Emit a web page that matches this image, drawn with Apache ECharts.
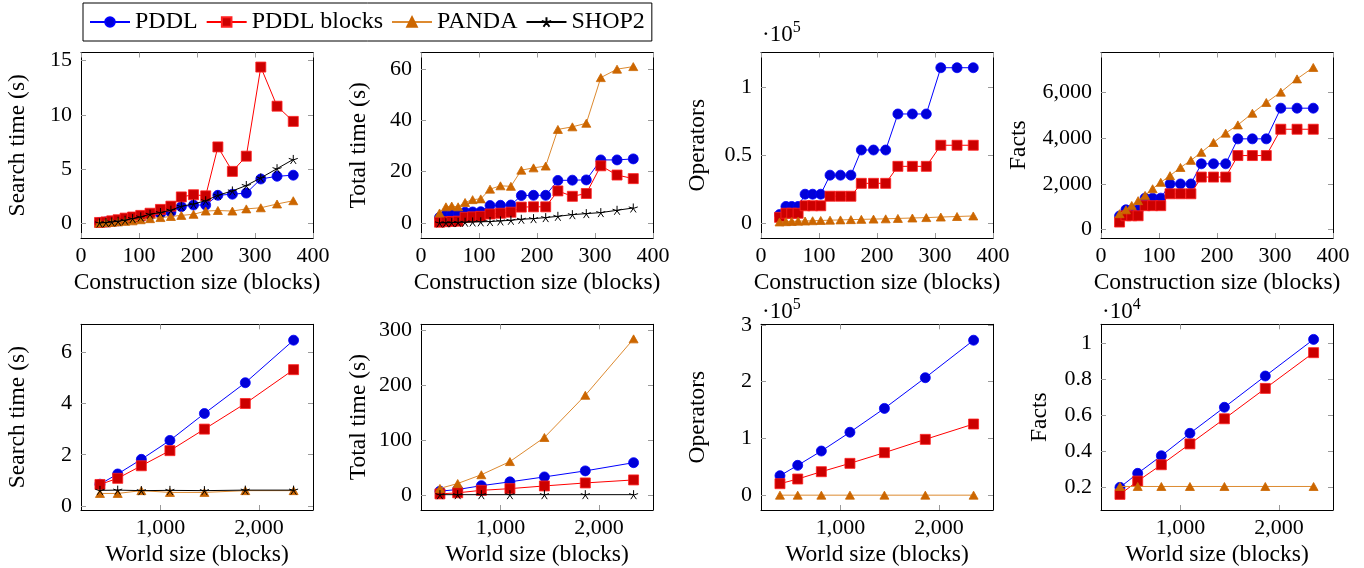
<!DOCTYPE html>
<html><head><meta charset="utf-8">
<script src="https://cdn.jsdelivr.net/npm/echarts@6/dist/echarts.min.js"></script>
<style>html,body{margin:0;padding:0;background:#fff}#c{width:1364px;height:568px}</style>
</head><body><div id="c"></div>
<script>
// ---------- data ----------
const seriesNames = ['PDDL', 'PDDL blocks', 'PANDA', 'SHOP2'];
const constructionSize = [32, 43, 53, 64, 76, 89, 103, 119, 137, 155, 173, 194, 215, 236, 261, 285, 310, 338, 366];
const worldSize = [385, 565, 805, 1095, 1445, 1860, 2350];

const constXTicks = [0, 100, 200, 300, 400];
const worldXTicks = [1000, 2000];

// construction size panels
const pddlSearchC = [0.1, 0.15, 0.2, 0.25, 0.35, 0.45, 0.55, 0.75, 0.9, 1.05, 1.55, 1.7, 1.7, 2.6, 2.7, 2.8, 4.1, 4.35, 4.45];
const blocksSearchC = [0.1, 0.15, 0.25, 0.35, 0.5, 0.6, 0.75, 0.95, 1.3, 1.6, 2.45, 2.65, 2.55, 7.05, 4.8, 6.2, 14.4, 10.8, 9.4];
const pandaSearchC = [0.05, 0.08, 0.1, 0.15, 0.2, 0.25, 0.35, 0.45, 0.55, 0.65, 0.75, 0.85, 1.15, 1.2, 1.15, 1.35, 1.45, 1.8, 2.1];
const shopSearchC = [0.06, 0.09, 0.15, 0.21, 0.31, 0.46, 0.61, 0.86, 1.01, 1.23, 1.59, 1.8, 2.1, 2.6, 3.0, 3.5, 4.2, 5.05, 5.9];

const pddlTotalC = [2.2, 3.3, 3.4, 3.5, 4.2, 4.3, 4.4, 6.8, 6.9, 7.0, 10.7, 10.8, 10.8, 16.6, 16.7, 16.8, 24.6, 24.6, 25.0];
const blocksTotalC = [0.3, 0.5, 0.6, 0.7, 2.2, 2.4, 2.6, 3.5, 3.8, 4.2, 6.2, 6.3, 6.3, 12.5, 10.4, 11.5, 22.3, 18.7, 17.3];
const pandaTotalC = [3.9, 6.3, 6.6, 6.3, 8.0, 9.1, 9.4, 13.2, 14.5, 14.3, 20.6, 21.5, 22.2, 36.5, 37.5, 38.9, 56.7, 60.0, 61.0];
const shopTotalC = [0.05, 0.1, 0.15, 0.25, 0.3, 0.4, 0.45, 0.55, 0.8, 1.05, 1.45, 1.7, 2.1, 2.6, 3.25, 3.65, 4.05, 4.95, 5.85];

const pddlOpsC = [6000, 12000, 12000, 12000, 21000, 21000, 21000, 35000, 35000, 35000, 53500, 53500, 53500, 80000, 80000, 80000, 114000, 114000, 114000];
const blocksOpsC = [4000, 7000, 7000, 7000, 12500, 12500, 12500, 19500, 19500, 19500, 29000, 29000, 29000, 41500, 41500, 41500, 57000, 57000, 57000];
const pandaOpsC = [600, 800, 1000, 1200, 1300, 1500, 1700, 1900, 2100, 2300, 2500, 2700, 2900, 3200, 3500, 3800, 4200, 4600, 5000];

const pddlFactsC = [600, 870, 870, 870, 1380, 1380, 1380, 2000, 2000, 2000, 2880, 2880, 2880, 3970, 3970, 3970, 5310, 5310, 5310];
const blocksFactsC = [335, 610, 610, 610, 1050, 1050, 1050, 1570, 1570, 1570, 2300, 2300, 2300, 3240, 3240, 3240, 4390, 4390, 4390];
const pandaFactsC = [700, 870, 1060, 1270, 1500, 1790, 2070, 2360, 2720, 3030, 3380, 3810, 4220, 4580, 5090, 5560, 6010, 6590, 7090];

// world size panels
const pddlSearchW = [0.85, 1.25, 1.82, 2.56, 3.61, 4.81, 6.47];
const blocksSearchW = [0.84, 1.08, 1.57, 2.16, 3.0, 4.0, 5.32];
const pandaSearchW = [0.49, 0.49, 0.6, 0.53, 0.53, 0.6, 0.6];
const shopSearchW = [0.61, 0.62, 0.6, 0.61, 0.6, 0.62, 0.62];

const pddlTotalW = [7, 10, 17, 24, 33, 44, 59];
const blocksTotalW = [2, 4, 8.5, 11.6, 16.5, 22, 27.5];
const pandaTotalW = [12, 21, 37, 61, 105, 182, 285];
const shopTotalW = [0.6, 0.6, 0.6, 0.6, 0.6, 0.6, 0.6];

const pddlOpsW = [34600, 52800, 78000, 111000, 153000, 207000, 273000];
const blocksOpsW = [20500, 28700, 41600, 56300, 75100, 98500, 125500];
const pandaOpsW = [300, 300, 300, 300, 300, 300, 300];

const pddlFactsW = [1980, 2760, 3740, 4990, 6440, 8180, 10220];
const blocksFactsW = [1590, 2330, 3240, 4400, 5800, 7490, 9480];
const pandaFactsW = [2030, 2030, 2030, 2030, 2030, 2030, 2030];

// tick values
const searchCTicks = [0, 5, 10, 15];
const totalCTicks = [0, 20, 40, 60];
const opsCTicks = [0, 50000, 100000];
const factsCTicks = [0, 2000, 4000, 6000];
const searchWTicks = [0, 2, 4, 6];
const totalWTicks = [0, 100, 200, 300];
const opsWTicks = [0, 100000, 200000, 300000];
const factsWTicks = [2000, 4000, 6000, 8000, 10000];

// ---------- styling / layout ----------
const FONT = "'Liberation Serif', 'DejaVu Serif', serif";
const comma = v => v.toLocaleString('en-US');
const plain = v => String(v);
const e5 = v => String(parseFloat((v / 1e5).toFixed(3)));
const e4 = v => String(parseFloat((v / 1e4).toFixed(3)));

const starPath = 'path://M10,10L10,0M10,10L19.51,6.91M10,10L15.88,18.09M10,10L4.12,18.09M10,10L0.49,6.91';
const styles = {
  'PDDL': {line: '#0000ff', fill: '#0000d8', border: '#0000ff', symbol: 'circle', size: 10},
  'PDDL blocks': {line: '#ff0000', fill: '#cc0000', border: '#ff2020', symbol: 'rect', size: 10},
  'PANDA': {line: '#dd8a30', fill: '#cc6600', border: '#cc6600', symbol: 'triangle', size: [9, 8]},
  'SHOP2': {line: '#000000', fill: 'rgba(0,0,0,0)', border: '#000000', symbol: starPath, size: 9}
};

const topY = 52.5, topH = 185.5, botY = 324.3, botH = 185.7;
const lefts = [81, 421, 761, 1101];
const W = 232;

const panels = [
  {g: [lefts[0], topY, topH], x: constructionSize, xr: [0, 400], xt: constXTicks, xf: plain, xn: 'Construction size (blocks)',
   yn: 'Search time (s)', yr: [-1.33, 15.74], yt: searchCTicks, yf: plain, gap: 51,
   s: [pddlSearchC, blocksSearchC, pandaSearchC, shopSearchC]},
  {g: [lefts[1], topY, topH], x: constructionSize, xr: [0, 400], xt: constXTicks, xf: plain, xn: 'Construction size (blocks)',
   yn: 'Total time (s)', yr: [-5.86, 66.5], yt: totalCTicks, yf: plain, gap: 50,
   s: [pddlTotalC, blocksTotalC, pandaTotalC, shopTotalC]},
  {g: [lefts[2], topY, topH], x: constructionSize, xr: [0, 400], xt: constXTicks, xf: plain, xn: 'Construction size (blocks)',
   yn: 'Operators', yr: [-11200, 125200], yt: opsCTicks, yf: e5, gap: 51,
   s: [pddlOpsC, blocksOpsC, pandaOpsC, null]},
  {g: [lefts[3], topY, topH], x: constructionSize, xr: [0, 400], xt: constXTicks, xf: plain, xn: 'Construction size (blocks)',
   yn: 'Facts', yr: [-362, 7743], yt: factsCTicks, yf: comma, gap: 70,
   s: [pddlFactsC, blocksFactsC, pandaFactsC, null]},
  {g: [lefts[0], botY, botH], x: worldSize, xr: [192.5, 2547], xt: worldXTicks, xf: comma, xn: 'World size (blocks)',
   yn: 'Search time (s)', yr: [-0.156, 7.09], yt: searchWTicks, yf: plain, gap: 51,
   s: [pddlSearchW, blocksSearchW, pandaSearchW, shopSearchW]},
  {g: [lefts[1], botY, botH], x: worldSize, xr: [192.5, 2547], xt: worldXTicks, xf: comma, xn: 'World size (blocks)',
   yn: 'Total time (s)', yr: [-27.4, 311.6], yt: totalWTicks, yf: plain, gap: 50,
   s: [pddlTotalW, blocksTotalW, pandaTotalW, shopTotalW]},
  {g: [lefts[2], botY, botH], x: worldSize, xr: [192.5, 2547], xt: worldXTicks, xf: comma, xn: 'World size (blocks)',
   yn: 'Operators', yr: [-25800, 301000], yt: opsWTicks, yf: e5, gap: 51,
   s: [pddlOpsW, blocksOpsW, pandaOpsW, null]},
  {g: [lefts[3], botY, botH], x: worldSize, xr: [192.5, 2547], xt: worldXTicks, xf: comma, xn: 'World size (blocks)',
   yn: 'Facts', yr: [720, 11060], yt: factsWTicks, yf: e4, gap: 49,
   s: [pddlFactsW, blocksFactsW, pandaFactsW, null]}
];

const grids = [], xAxes = [], yAxes = [], series = [];
const tickStyle = {color: '#9a9a9a', width: 1};
const lineStyle = {color: '#000', width: 1};
const labelText = {fontFamily: FONT, fontSize: 22, color: '#000'};
const nameText = {fontFamily: FONT, fontSize: 23.5, color: '#000'};

panels.forEach((p, i) => {
  grids.push({left: p.g[0], top: p.g[1], width: W, height: p.g[2], containLabel: false});
  const baseX = {type: 'value', gridIndex: i, min: p.xr[0], max: p.xr[1],
    axisLine: {show: true, onZero: false, lineStyle},
    axisTick: {show: true, inside: true, length: 5, lineStyle: tickStyle, customValues: p.xt},
    splitLine: {show: false}, minorTick: {show: false}};
  xAxes.push(Object.assign({}, baseX, {position: 'bottom',
    axisLabel: Object.assign({show: true, margin: 7, customValues: p.xt, formatter: p.xf}, labelText),
    name: p.xn, nameLocation: 'middle', nameGap: 33, nameTextStyle: nameText}));
  xAxes.push(Object.assign({}, baseX, {position: 'top', axisLabel: {show: false}}));
  const baseY = {type: 'value', gridIndex: i, min: p.yr[0], max: p.yr[1],
    axisLine: {show: true, onZero: false, lineStyle},
    axisTick: {show: true, inside: true, length: 5, lineStyle: tickStyle, customValues: p.yt},
    splitLine: {show: false}, minorTick: {show: false}};
  yAxes.push(Object.assign({}, baseY, {position: 'left',
    axisLabel: Object.assign({show: true, margin: 9, customValues: p.yt, formatter: p.yf}, labelText),
    name: p.yn, nameLocation: 'middle', nameGap: p.gap, nameRotate: 90, nameTextStyle: nameText}));
  yAxes.push(Object.assign({}, baseY, {position: 'right', axisLabel: {show: false}}));

  p.s.forEach((vals, k) => {
    if (!vals) return;
    const nm = seriesNames[k], st = styles[nm];
    series.push({
      name: nm, type: 'line', xAxisIndex: 2 * i, yAxisIndex: 2 * i,
      data: p.x.map((xv, j) => [xv, vals[j]]),
      symbol: st.symbol, symbolSize: st.size, showSymbol: true,
      lineStyle: {color: st.line, width: 1},
      itemStyle: {color: st.fill, borderColor: st.border, borderWidth: nm === 'SHOP2' ? 1 : 0.8},
      emphasis: {disabled: true}, z: 2 + k
    });
  });
});

const supTitle = (left, top, exp) => ({
  left, top, text: '{b|·10}{s|' + exp + '}',
  textStyle: {fontWeight: 'normal', rich: {
    b: {fontFamily: FONT, fontSize: 23, fontWeight: 'normal', color: '#000', lineHeight: 26, verticalAlign: 'bottom'},
    s: {fontFamily: FONT, fontSize: 16, fontWeight: 'normal', color: '#000', lineHeight: 16, verticalAlign: 'top'}
  }}, padding: 0
});

const option = {
  animation: false,
  backgroundColor: '#fff',
  title: [supTitle(762, 20, 5), supTitle(762, 297, 5), supTitle(1102, 297, 4)],
  legend: {
    data: seriesNames, left: 83, top: 3, orient: 'horizontal',
    itemWidth: 40, itemHeight: 12, itemGap: 8,
    padding: [7, 7, 7, 6],
    borderColor: '#000', borderWidth: 1, borderRadius: 0,
    textStyle: {fontFamily: FONT, fontSize: 24, color: '#000'},
    selectedMode: false
  },
  grid: grids, xAxis: xAxes, yAxis: yAxes, series
};

const chart = echarts.init(document.getElementById('c'), null, {renderer: 'canvas'});
chart.setOption(option);
</script>
</body></html>
